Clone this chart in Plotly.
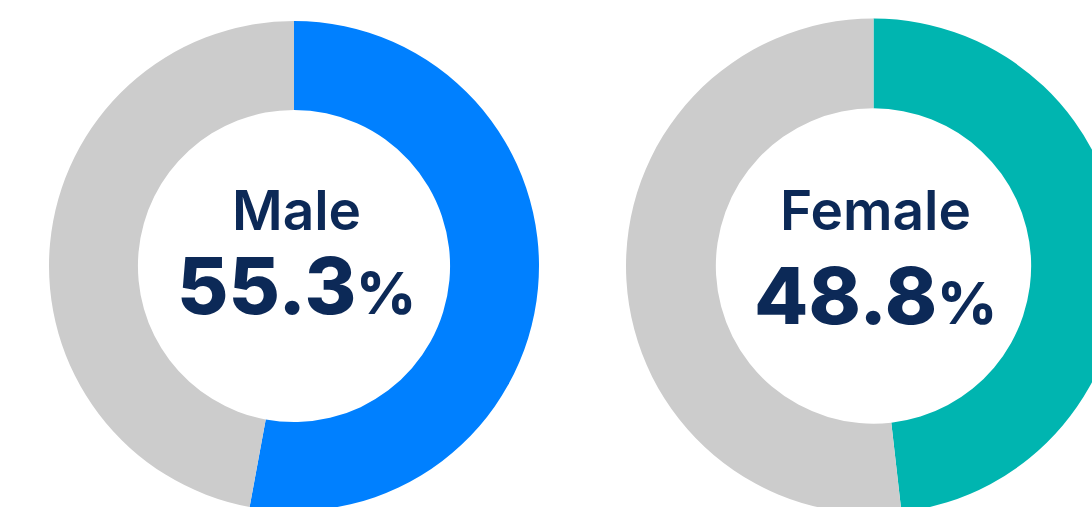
import plotly.graph_objects as go

# ---- data ----
groups = ["Male", "Female"]
share_labels = ["55.3", "48.8"]     # percentages printed in the centres
slice_shares = [52.9, 48.2]         # share drawn as the coloured arc (read from the arcs)
accent_colors = ["#0080ff", "#00b5b0"]
rest_color = "#cccccc"
text_color = "#0c2957"

# ---- layout constants ----
W, H = 1130, 532
centers_px = [294, 873.5]
radii_px = [245, 247.5]
hole = 0.637
line_gap_px = [84, 94]       # baseline distance label -> number
text_mid_px = [255, 260]

fig = go.Figure()
for g, s, c, cx, r in zip(groups, slice_shares, accent_colors, centers_px, radii_px):
    fig.add_trace(go.Pie(
        values=[s, 100 - s],
        labels=[g, "Other"],
        marker=dict(colors=[c, rest_color], line=dict(width=0)),
        hole=hole,
        sort=False,
        direction="clockwise",
        rotation=0,
        textinfo="none",
        hoverinfo="skip",
        showlegend=False,
        domain=dict(x=[(cx - r) / W, (cx + r) / W], y=[0, 1]),
    ))

for g, lab, cx, gap, my in zip(groups, share_labels, centers_px, line_gap_px, text_mid_px):
    txt = (f"<span style='font-size:55px;font-weight:600'>{g}</span><br>"
           f"<span style='font-size:79px;font-weight:800'>{lab}"
           f"<span style='font-size:58px'>%</span></span>")
    fig.add_annotation(
        x=(cx + 2) / W, y=1 - my / H, xref="paper", yref="paper",
        text=txt, showarrow=False, xanchor="center", yanchor="middle",
        align="center",
        font=dict(family="Inter", size=gap / 1.3, color=text_color, weight=800),
    )

fig.update_layout(
    width=W, height=H,
    margin=dict(l=0, r=0, t=0, b=0),
    paper_bgcolor="white", plot_bgcolor="white",
)

fig.write_html(
    "out.html",
    post_script="document.body.style.margin='0';document.body.style.overflow='hidden';document.documentElement.style.overflow='hidden';",
)
